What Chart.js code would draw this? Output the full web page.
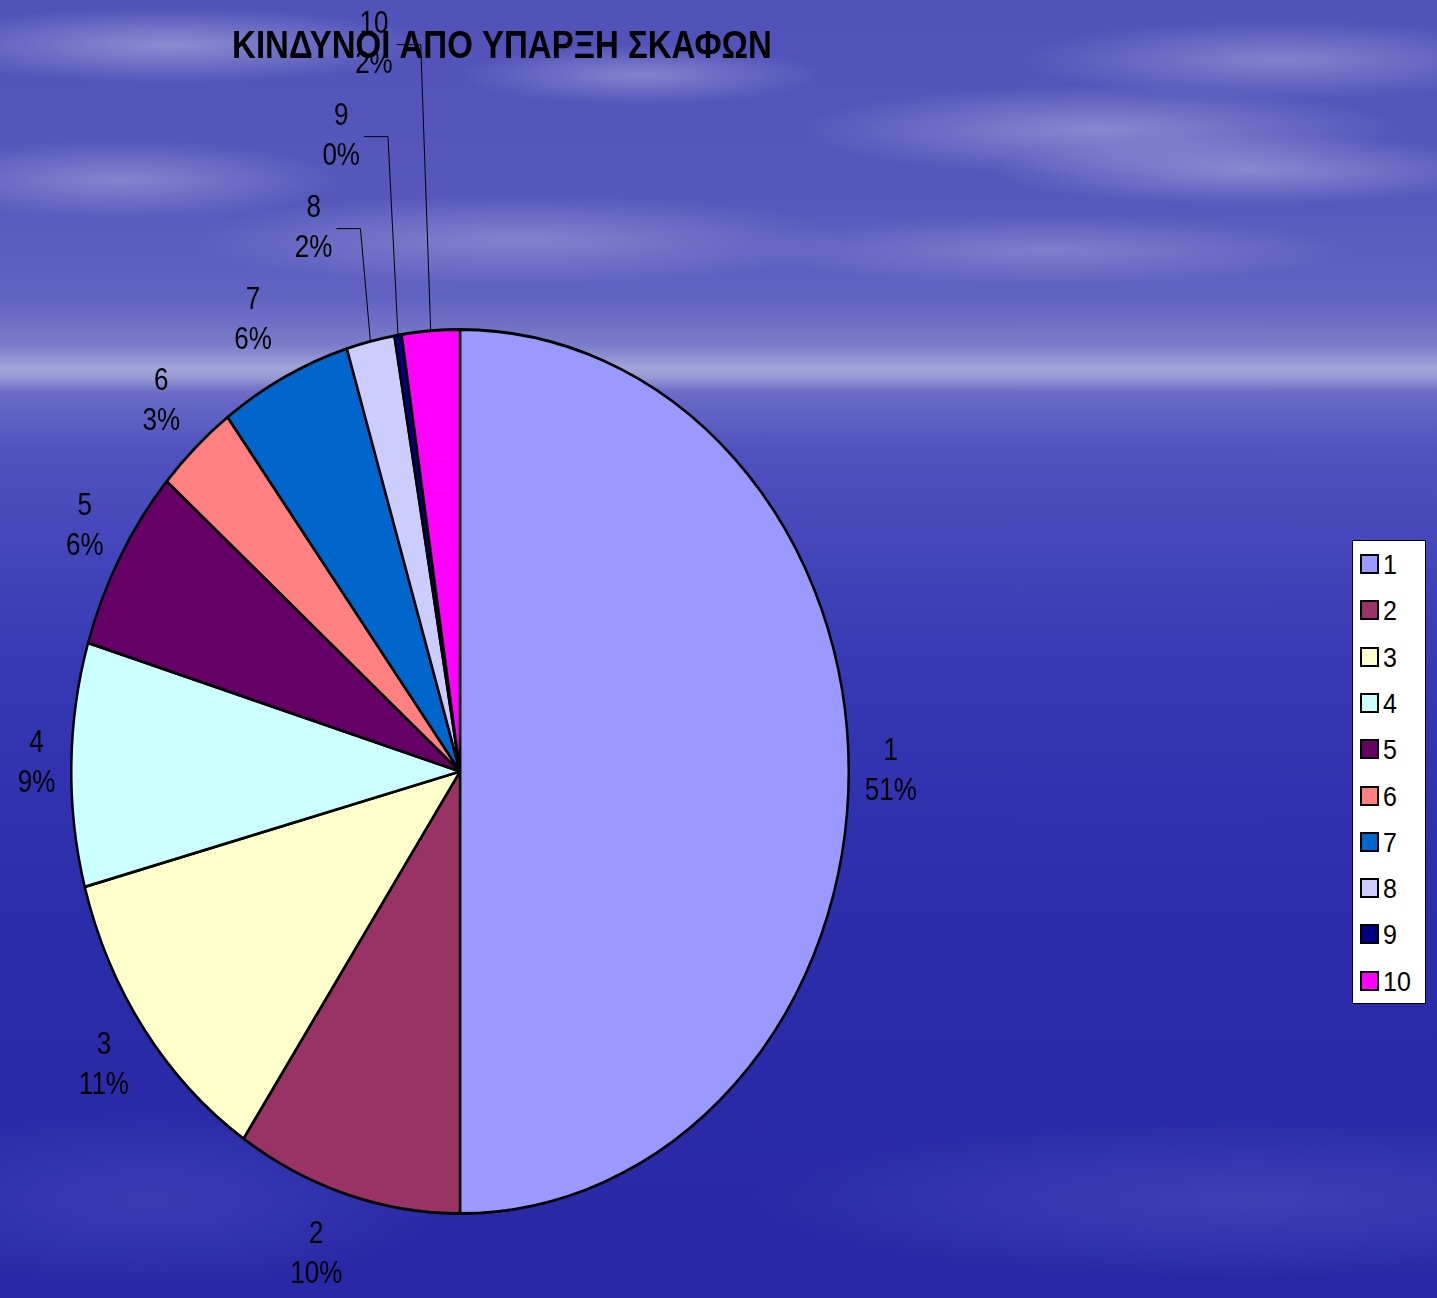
<!DOCTYPE html>
<html>
<head>
<meta charset="utf-8">
<script src="https://cdn.jsdelivr.net/npm/chart.js@4/dist/chart.umd.min.js"></script>
<style>
    html, body {
        margin: 0;
        padding: 0;
    }
    body {
        width: 1437px;
        height: 1298px;
        overflow: hidden;
        position: relative;
        font-family: "Liberation Sans", Arial, sans-serif;
        background:
            radial-gradient(ellipse 260px 38px at 170px 45px, rgba(185,187,232,.55), rgba(185,187,232,0)),
            radial-gradient(ellipse 180px 30px at 640px 75px, rgba(185,187,232,.45), rgba(185,187,232,0)),
            radial-gradient(ellipse 260px 40px at 1280px 60px, rgba(185,187,232,.45), rgba(185,187,232,0)),
            radial-gradient(ellipse 300px 45px at 1100px 130px, rgba(185,187,232,.5), rgba(185,187,232,0)),
            radial-gradient(ellipse 260px 35px at 1250px 170px, rgba(185,187,232,.5), rgba(185,187,232,0)),
            radial-gradient(ellipse 220px 40px at 120px 180px, rgba(185,187,232,.45), rgba(185,187,232,0)),
            radial-gradient(ellipse 330px 45px at 520px 240px, rgba(185,187,232,.4), rgba(185,187,232,0)),
            radial-gradient(ellipse 300px 35px at 1050px 250px, rgba(185,187,232,.35), rgba(185,187,232,0)),
            radial-gradient(ellipse 500px 80px at 1250px 1200px, rgba(90,92,200,.45), rgba(90,92,200,0)),
            radial-gradient(ellipse 300px 90px at 150px 1200px, rgba(80,82,195,.45), rgba(80,82,195,0)),
            linear-gradient(to bottom,
                #5052b8 0px, #5658bc 200px, #6264c2 300px, #7a7cca 345px,
                #a2a4da 368px, #9698d4 378px, #6a6cc6 392px, #5052bf 450px,
                #4244b9 560px, #3436b2 700px, #2c2dab 900px, #2828a6 1298px);
    }
    #chart {
        position: absolute;
        left: 0;
        top: 0;
    }
    #legend-container {
        position: absolute;
        left: 1352px;
        top: 540px;
        width: 74px;
        height: 464px;
        background: #fff;
        border: 1px solid #000;
        box-sizing: border-box;
    }
</style>
</head>
<body>
<canvas id="chart" width="1437" height="1298"></canvas>
<div id="legend-container"></div>
<script>
const chartTitle = 'ΚΙΝΔΥΝΟΙ ΑΠΟ ΥΠΑΡΞΗ ΣΚΑΦΩΝ';
const categories = ['1', '2', '3', '4', '5', '6', '7', '8', '9', '10'];
// slice sizes
const values = [50.0, 9.4, 11.4, 8.9, 6.7, 3.4, 5.5, 2.0, 0.3, 2.4];
// percentage texts as printed on the chart
const percentLabels = ['51%', '10%', '11%', '9%', '6%', '3%', '6%', '2%', '0%', '2%'];
const sliceColors = ['#9999FF', '#993366', '#FFFFCC', '#CCFFFF', '#660066',
                     '#FF8080', '#0066CC', '#CCCCFF', '#000080', '#FF00FF'];

// the pie in the picture is an ellipse, taller than wide
const STRETCH_Y = 1.137;
const TEXT_STRETCH = 1.18;
const LABEL_FONT = '26px "Liberation Sans", Arial, sans-serif';

const total = values.reduce((a, b) => a + b, 0);

function stretchedText(ctx, text, x, y) {
    ctx.save();
    ctx.translate(x, y);
    ctx.scale(1, TEXT_STRETCH);
    ctx.fillText(text, 0, 0);
    ctx.restore();
}

//파이를 세로로 늘리기
const stretchPlugin = {
    id: 'stretchPie',
    beforeDatasetsDraw(chart) {
        const arc = chart.getDatasetMeta(0).data[0];
        const ctx = chart.ctx;
        ctx.save();
        ctx.translate(arc.x, arc.y);
        ctx.scale(1, STRETCH_Y);
        ctx.translate(-arc.x, -arc.y);
    },
    afterDatasetsDraw(chart) {
        chart.ctx.restore();
    }
};

//라벨 + 제목
const labelPlugin = {
    id: 'pieLabels',
    afterDatasetsDraw(chart) {
        const ctx = chart.ctx;
        const meta = chart.getDatasetMeta(0);
        ctx.save();
        ctx.font = LABEL_FONT;
        ctx.fillStyle = '#000';
        ctx.strokeStyle = '#000';
        ctx.lineWidth = 1;
        ctx.textAlign = 'center';
        ctx.textBaseline = 'middle';

        let prev = null;
        meta.data.forEach((arc, i) => {
            const share = values[i] * 100 / total;
            const line1 = categories[i];
            const line2 = percentLabels[i];
            const w = Math.max(ctx.measureText(line1).width, ctx.measureText(line2).width);
            const h = 90;
            const mid = (arc.startAngle + arc.endAngle) / 2;
            const cos = Math.cos(mid), sin = Math.sin(mid);
            const R = arc.outerRadius;
            const d = 16;
            let lx = arc.x + cos * (R + d) + cos * w / 2;
            let ly = arc.y + sin * (R + d) * STRETCH_Y + sin * h / 2;
            if (cos < 0) {
                lx -= 20 * sin * sin;
            }

            if (share < 3 && prev) {
                // small slices: stack above the previous label, with a leader line
                const ex = arc.x + cos * R;
                const ey = arc.y + sin * R * STRETCH_Y;
                const vx = ex - 10;
                ly = Math.min(ly, prev.y - 92);
                lx = vx - 28 - w / 2;
                ctx.beginPath();
                ctx.moveTo(lx + w / 2 + 4, ly);
                ctx.lineTo(vx, ly);
                ctx.lineTo(ex, ey);
                ctx.stroke();
            }
            stretchedText(ctx, line1, lx, ly - 20);
            stretchedText(ctx, line2, lx, ly + 20);
            prev = { x: lx, y: ly };
        });

        ctx.font = 'bold 33px "Liberation Sans", Arial, sans-serif';
        stretchedText(ctx, chartTitle, 502, 47);
        ctx.restore();
    }
};

//레전드만들기
function buildLegend(chart, id) {
    const box = document.getElementById(id);
    const items = chart.data.labels.map((label, i) => ({
        text: label,
        color: chart.data.datasets[0].backgroundColor[i]
    }));
    items.forEach((item, i) => {
        const row = document.createElement('div');
        row.style.position = 'absolute';
        row.style.left = '7px';
        row.style.top = (23 + i * 46.3 - 16) + 'px';
        row.style.height = '32px';
        row.style.display = 'flex';
        row.style.alignItems = 'center';

        const swatch = document.createElement('span');
        swatch.style.display = 'inline-block';
        swatch.style.width = '15px';
        swatch.style.height = '16px';
        swatch.style.border = '2px solid #000';
        swatch.style.background = item.color;

        const text = document.createElement('span');
        text.style.display = 'inline-block';
        text.style.marginLeft = '4px';
        text.style.fontSize = '25px';
        text.style.color = '#000';
        text.style.lineHeight = '32px';
        text.style.transform = 'scaleY(1.12)';
        text.textContent = item.text;

        row.appendChild(swatch);
        row.appendChild(text);
        box.appendChild(row);
    });
}

const ctx = document.getElementById('chart').getContext('2d');
const chart = new Chart(ctx, {
    type: 'pie',
    data: {
        labels: categories,
        datasets: [{
            data: values,
            backgroundColor: sliceColors,
            borderColor: '#000',
            borderWidth: 2.5,
            clip: false
        }]
    },
    options: {
        responsive: false,
        animation: false,
        layout: {
            padding: { left: 70, right: 587, top: 381.5, bottom: 136.5 }
        },
        plugins: {
            legend: { display: false },
            tooltip: { enabled: false },
            title: { display: false }
        }
    },
    plugins: [stretchPlugin, labelPlugin]
});

buildLegend(chart, 'legend-container');
</script>
</body>
</html>
